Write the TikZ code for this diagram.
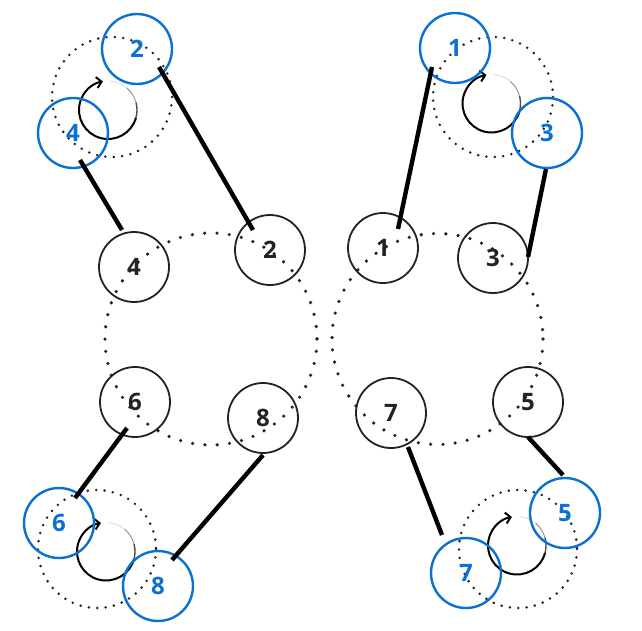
\documentclass[tikz,border=0pt]{standalone}
\usepackage{fontspec}
\setmainfont{Open Sans}
\usetikzlibrary{calc,arrows.meta}
\definecolor{cblue}{RGB}{10,112,210}
\definecolor{cdark}{RGB}{34,34,34}
\tikzset{
  cyl/.style={circle,draw=cdark,line width=1.8pt,minimum size=70pt,inner sep=0pt,font=\fontsize{24}{24}\selectfont\bfseries,text=cdark},
  tgt/.style={circle,draw=cblue,line width=2.4pt,minimum size=70pt,inner sep=0pt,font=\fontsize{24}{24}\selectfont\bfseries,text=cblue},
  bigdots/.style={draw=cdark,line width=3.6pt,line cap=round,dash pattern=on 0pt off 12.33pt},
  smalldots/.style={draw=cdark,line width=2.8pt,line cap=round,dash pattern=on 0pt off 8.4pt},
  conn/.style={draw=black,line width=4.4pt},
  rot/.style={draw=black,line width=2pt,-{Straight Barb[length=5pt,width=11pt,line width=2pt]}},
}
\begin{document}
\begin{tikzpicture}[x=1pt,y=-1pt]
\useasboundingbox (0,0) rectangle (642,630);
% large dotted circles
\path[bigdots] (211,339) circle[radius=106];
\path[bigdots] (437.5,339) circle[radius=105.5];
% small dotted circles
\path[smalldots] (112,97) circle[radius=60];
\path[smalldots] (493,97) circle[radius=60];
\path[smalldots] (97,549) circle[radius=59];
\path[smalldots] (518,549) circle[radius=59];
% rotation arrows (y axis points down, so angles run clockwise)
\foreach \cx/\cy in {108/110, 491.5/103.5, 106/551.5, 517/545.5}{
  \draw[rot] (\cx,\cy) ++(15:29) arc[start angle=15, end angle=260, radius=29];
  \draw[black!70,line width=1.4pt] (\cx,\cy) ++(15:29) arc[start angle=15, end angle=-15, radius=29];
  \draw[black!40,line width=1pt] (\cx,\cy) ++(-15:29) arc[start angle=-15, end angle=-50, radius=29];
  \draw[black!15,line width=0.8pt] (\cx,\cy) ++(-50:29) arc[start angle=-50, end angle=-85, radius=29];
}
% black cylinder circles
\node[cyl] (k4) at (134,267) {4};
\node[cyl] (k2) at (270,250) {2};
\node[cyl] (k6) at (135,402) {6};
\node[cyl] (k8) at (263,418) {8};
\node[cyl] (k1) at (383,248) {1};
\node[cyl] (k3) at (493,258) {3};
\node[cyl] (k7) at (391,413) {7};
\node[cyl] (k5) at (528,402) {5};
% blue circles
\node[tgt] (B2) at (137,49) {2};
\node[tgt] (B4) at (73,133) {4};
\node[tgt] (B1) at (455,48) {1};
\node[tgt] (B3) at (547,133) {3};
\node[tgt] (B6) at (59,523) {6};
\node[tgt] (B8) at (158,586) {8};
\node[tgt] (B5) at (565,513) {5};
\node[tgt] (B7) at (466,573) {7};
% connectors
\draw[conn] ($(B2)+(22,18)$) -- ($(k2)+(-17,-20)$);
\draw[conn] ($(B4)+(7,27)$) -- ($(k4)+(-12,-37)$);
\draw[conn] ($(B1)+(-23,19)$) -- ($(k1)+(15,-19)$);
\draw[conn] ($(B3)+(-1,36)$) -- ($(k3)+(35,-1)$);
\draw[conn] ($(k6)+(-8,26)$) -- ($(B6)+(16,-25)$);
\draw[conn] ($(k8)+(0,37)$) -- ($(B8)+(14,-26)$);
\draw[conn] ($(k7)+(17,34)$) -- ($(B7)+(-24,-38)$);
\draw[conn] ($(k5)+(0,35)$) -- ($(B5)+(-2,-38)$);
\end{tikzpicture}
\end{document}
